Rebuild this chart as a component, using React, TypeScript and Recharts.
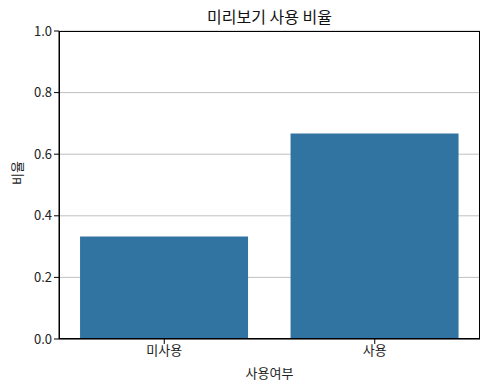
import { BarChart, Bar, XAxis, YAxis, CartesianGrid } from 'recharts';

const categories = ['미사용', '사용'];
const ratios = [0.333, 0.667];
const yTicks = [0, 0.2, 0.4, 0.6, 0.8, 1.0];

const data = categories.map((name, i) => ({ name, ratio: ratios[i] }));

const font = '"Noto Sans CJK KR", "Noto Sans", sans-serif';

export default function App() {
  return (
    <div style={{ position: 'absolute', left: 0, top: 0, width: 490, height: 390, background: '#fff', fontFamily: font }}>
      <div style={{ position: 'absolute', left: 59, width: 421, top: 4, textAlign: 'center', fontSize: 16, color: '#111' }}>
        미리보기 사용 비율
      </div>
      <BarChart
        width={490}
        height={390}
        data={data}
        margin={{ top: 31, right: 10, bottom: 0, left: 0 }}
        barCategoryGap="10%"
        accessibilityLayer={false}
      >
        <CartesianGrid vertical={false} stroke="#b0b0b0" strokeWidth={0.8} />
        <XAxis
          dataKey="name"
          height={51}
          axisLine={{ stroke: '#000', strokeWidth: 1 }}
          tickLine={{ stroke: '#000' }}
          tickSize={5}
          tick={{ fill: '#222', fontSize: 13, fontFamily: font }}
          label={{ value: '사용여부', position: 'insideBottom', offset: 12, fill: '#222', fontSize: 13, fontFamily: font }}
        />
        <YAxis
          width={59}
          domain={[0, 1]}
          ticks={yTicks}
          tickFormatter={(v: number) => v.toFixed(1)}
          axisLine={{ stroke: '#000', strokeWidth: 1 }}
          tickLine={{ stroke: '#000' }}
          tickSize={5}
          tick={{ fill: '#222', fontSize: 13, fontFamily: font }}
          label={{ value: '비율', angle: -90, position: 'insideLeft', offset: 17, fill: '#222', fontSize: 13, fontFamily: font }}
        />
        <Bar dataKey="ratio" fill="#3274a1" isAnimationActive={false} />
      </BarChart>
      <div
        style={{
          position: 'absolute',
          left: 59,
          top: 31,
          width: 421,
          height: 308,
          border: '1px solid #000',
          boxSizing: 'border-box',
          pointerEvents: 'none',
        }}
      />
    </div>
  );
}
